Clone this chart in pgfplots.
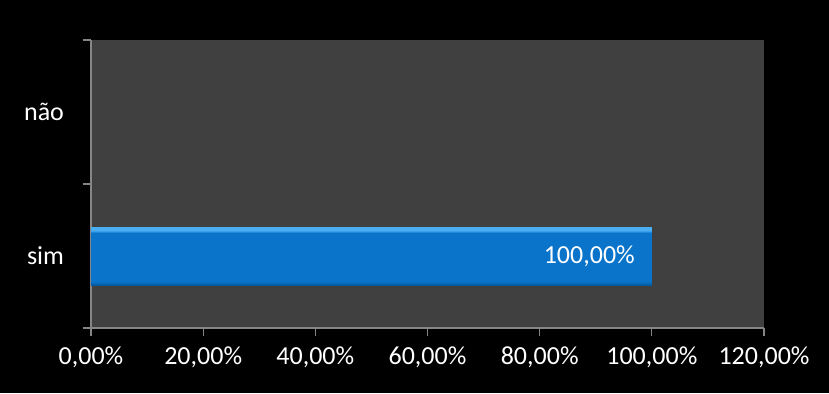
\documentclass[border=0pt]{standalone}
\usepackage{fontspec}
\setmainfont{Carlito}
\usepackage{pgfplots}
\pgfplotsset{compat=1.18}
\definecolor{plotbg}{HTML}{404040}
\definecolor{axgray}{HTML}{868686}
\definecolor{bartop}{HTML}{4AAEF2}
\definecolor{barmid}{HTML}{0A74CA}
\definecolor{barbot}{HTML}{05599F}
\pgfdeclareverticalshading{barshade}{100bp}{color(0bp)=(barbot); color(25bp)=(barbot); color(28bp)=(barmid); color(70bp)=(barmid); color(72bp)=(bartop); color(75bp)=(bartop); color(100bp)=(bartop)}
\begin{document}
\begin{tikzpicture}[x=1pt,y=1pt]
\fill[black] (0,0) rectangle (414.5,196.5);
\useasboundingbox (0,0) rectangle (414.5,196.5);
\begin{axis}[
  at={(45.5pt,32.5pt)}, anchor=south west,
  scale only axis, width=336.5pt, height=144pt,
  xmin=0, xmax=120, ymin=-0.5, ymax=1.5,
  axis x line*=bottom, axis y line*=left,
  axis line style={draw=axgray, line width=0.6pt},
  axis background/.style={fill=plotbg},
  xtick={0,20,40,60,80,100,120},
  xticklabels={{0,00\%},{20,00\%},{40,00\%},{60,00\%},{80,00\%},{100,00\%},{120,00\%}},
  ytick={0,1}, yticklabels={sim,não},
  minor ytick={-0.5,0.5,1.5},
  major y tick style={draw=none},
  tick align=outside,
  major tick length=4pt, minor tick length=4pt,
  every tick/.style={draw=axgray, line width=0.6pt},
  ticklabel style={font=\fontsize{13}{15}\selectfont, text=white},
  xticklabel style={yshift=-2pt},
  yticklabel style={xshift=-6pt},
  xbar, bar width=29pt,
  /pgf/number format/assume math mode=true,
  clip=false,
]
\addplot[draw=none, shading=barshade,
  nodes near coords={\pgfmathprintnumber[fixed,fixed zerofill,precision=2,use comma]{\pgfplotspointmeta}\%},
  point meta=x,
  every node near coord/.style={anchor=east, xshift=-5pt, text=white, font=\fontsize{13}{15}\selectfont},
] coordinates {(100,0)};
\end{axis}
\end{tikzpicture}
\end{document}
